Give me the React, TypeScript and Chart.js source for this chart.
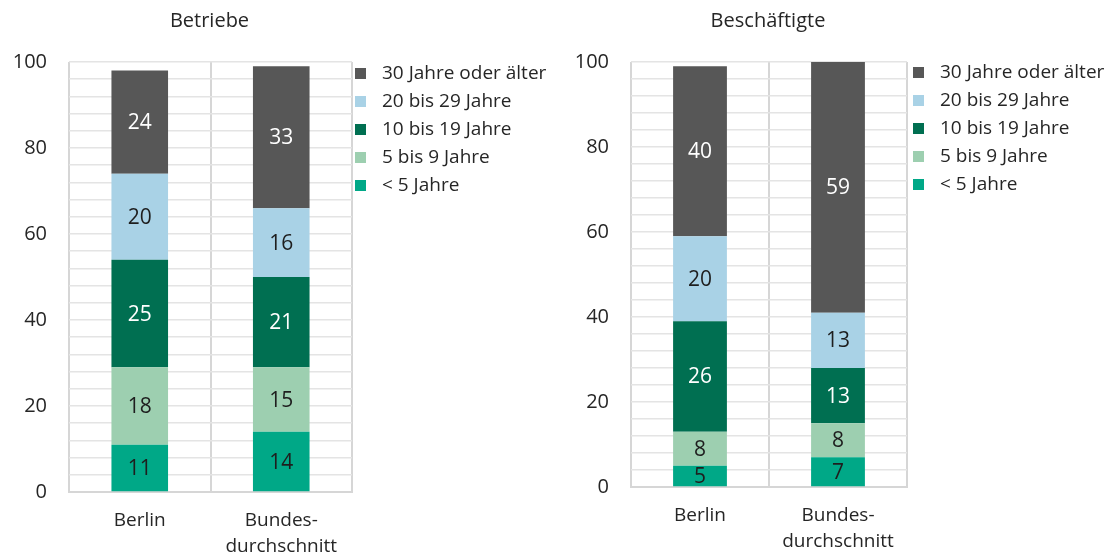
import React, { useEffect, useRef } from "react";
import { Chart, registerables } from "chart.js";

Chart.register(...registerables);

const categories = [["Berlin"], ["Bundes-", "durchschnitt"]];
const seriesLabels = ["< 5 Jahre", "5 bis 9 Jahre", "10 bis 19 Jahre", "20 bis 29 Jahre", "30 Jahre oder älter"];
const seriesColors = ["#00A887", "#9DCFB0", "#006F51", "#A9D2E6", "#575757"];
const labelColors = ["#1E1E1E", "#1E1E1E", "#FFFFFF", "#1E1E1E", "#FFFFFF"];

const betriebeLt5 = [11, 14];
const betriebe5to9 = [18, 15];
const betriebe10to19 = [25, 21];
const betriebe20to29 = [20, 16];
const betriebe30plus = [24, 33];

const beschLt5 = [5, 7];
const besch5to9 = [8, 8];
const besch10to19 = [26, 13];
const besch20to29 = [20, 13];
const besch30plus = [40, 59];

const yMin = 0;
const yMax = 100;
const yGridStep = 4;
const yLabelStep = 20;

const FONT = "'Open Sans', sans-serif";

type Cfg = {
  title: string;
  series: number[][];
  left: number;
  axisW: number;
  right: number;
  top: number;
  xAxisH: number;
  barPct: number;
  legendBoxX: number;
  legendTextX: number;
  legendY0: number;
};

function StackChart({ cfg, width, height }: { cfg: Cfg; width: number; height: number }) {
  const ref = useRef<HTMLCanvasElement | null>(null);
  useEffect(() => {
    if (!ref.current) return;
    const overlay = {
      id: "overlay",
      afterDatasetsDraw(chart: any) {
        const ctx = chart.ctx;
        ctx.save();
        // data labels
        ctx.font = `21px ${FONT}`;
        ctx.textAlign = "center";
        ctx.textBaseline = "middle";
        chart.data.datasets.forEach((ds: any, di: number) => {
          const meta = chart.getDatasetMeta(di);
          meta.data.forEach((bar: any, i: number) => {
            const v = ds.data[i];
            const yc = (bar.y + bar.base) / 2;
            ctx.fillStyle = labelColors[di];
            ctx.fillText(String(v), bar.x, yc + 1);
          });
        });
        // title
        const ca = chart.chartArea;
        ctx.fillStyle = "#262626";
        ctx.font = `20px ${FONT}`;
        ctx.fillText(cfg.title, (ca.left + ca.right) / 2 - 1, 21);
        // legend
        ctx.textAlign = "left";
        ctx.font = `19px ${FONT}`;
        for (let k = 0; k < seriesLabels.length; k++) {
          const idx = seriesLabels.length - 1 - k;
          const yc = cfg.legendY0 + k * 28;
          ctx.fillStyle = seriesColors[idx];
          ctx.fillRect(cfg.legendBoxX, yc - 5, 11, 11);
          ctx.fillStyle = "#262626";
          ctx.fillText(seriesLabels[idx], cfg.legendTextX, yc + 1);
        }
        ctx.restore();
      },
    };
    const chart = new Chart(ref.current, {
      type: "bar",
      data: {
        labels: categories as any,
        datasets: cfg.series.map((d, i) => ({
          label: seriesLabels[i],
          data: d,
          backgroundColor: seriesColors[i],
          borderWidth: 0,
          barPercentage: cfg.barPct,
          categoryPercentage: 1,
        })),
      },
      options: {
        animation: false,
        responsive: false,
        devicePixelRatio: 1,
        layout: { padding: { left: cfg.left, right: cfg.right, top: cfg.top, bottom: 0 } },
        plugins: { legend: { display: false }, title: { display: false }, tooltip: { enabled: false } },
        scales: {
          x: {
            stacked: true,
            grid: { display: true, offset: true, color: "#D6D6D6", lineWidth: 2, drawTicks: false },
            border: { display: true, color: "#D6D6D6", width: 2 },
            ticks: { color: "#262626", font: { family: FONT, size: 19, lineHeight: 1.35 }, padding: 16, maxRotation: 0 },
            afterFit: (s: any) => {
              s.height = cfg.xAxisH;
            },
          },
          y: {
            stacked: true,
            min: yMin,
            max: yMax,
            grid: { color: "#E4E4E4", lineWidth: 1.5, drawTicks: false },
            border: { display: false },
            ticks: {
              stepSize: yGridStep,
              autoSkip: false,
              color: "#262626",
              font: { family: FONT, size: 20 },
              padding: 22,
              callback: (v: any) => (Number(v) % yLabelStep === 0 ? String(v) : ""),
            },
            afterFit: (s: any) => {
              s.width = cfg.axisW;
            },
          },
        },
      },
      plugins: [overlay],
    } as any);
    return () => chart.destroy();
  }, [cfg]);
  return <canvas ref={ref} width={width} height={height} style={{ display: "block" }} />;
}

const leftCfg: Cfg = {
  title: "Betriebe",
  series: [betriebeLt5, betriebe5to9, betriebe10to19, betriebe20to29, betriebe30plus],
  left: 0,
  axisW: 69,
  right: 201,
  top: 62,
  xAxisH: 63,
  barPct: 0.4,
  legendBoxX: 355,
  legendTextX: 382,
  legendY0: 73,
};

const rightCfg: Cfg = {
  title: "Beschäftigte",
  series: [beschLt5, besch5to9, besch10to19, besch20to29, besch30plus],
  left: 0,
  axisW: 78,
  right: 199,
  top: 62,
  xAxisH: 68,
  barPct: 0.39,
  legendBoxX: 360,
  legendTextX: 387,
  legendY0: 72,
};

export default function App() {
  return (
    <div style={{ position: "absolute", left: 0, top: 0, width: 1106, height: 555, background: "#fff" }}>
      <div style={{ position: "absolute", left: 0, top: 0 }}>
        <StackChart cfg={leftCfg} width={553} height={555} />
      </div>
      <div style={{ position: "absolute", left: 553, top: 0 }}>
        <StackChart cfg={rightCfg} width={553} height={555} />
      </div>
    </div>
  );
}
